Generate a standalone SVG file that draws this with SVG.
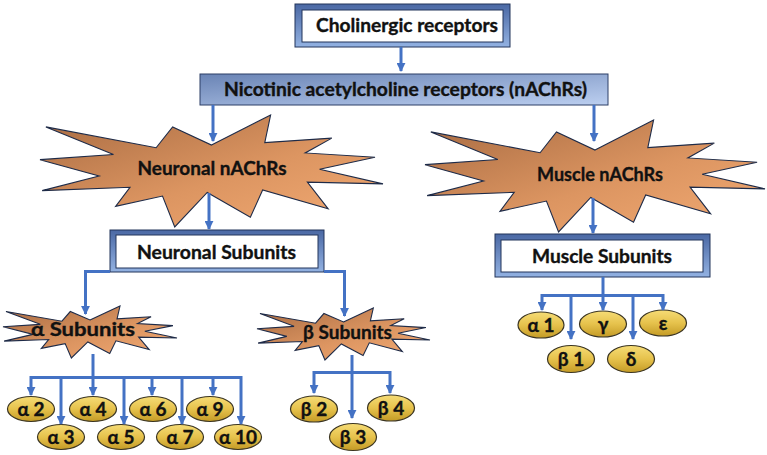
<svg xmlns="http://www.w3.org/2000/svg" xmlns:xlink="http://www.w3.org/1999/xlink" width="767" height="455" viewBox="0 0 767 455">
<defs>
<linearGradient id="starGrad" x1="0" y1="0" x2="1" y2="1">
<stop offset="0" stop-color="#a86b42"/>
<stop offset="0.55" stop-color="#dc9561"/>
<stop offset="1" stop-color="#f3ab74"/>
</linearGradient>
<linearGradient id="ellGrad" x1="0" y1="0" x2="0" y2="1">
<stop offset="0" stop-color="#f6dc76"/>
<stop offset="0.5" stop-color="#e6c24c"/>
<stop offset="1" stop-color="#c49b26"/>
</linearGradient>
<linearGradient id="frameGrad" x1="0" y1="0" x2="0" y2="1">
<stop offset="0" stop-color="#4a68a4"/>
<stop offset="1" stop-color="#93b2e2"/>
</linearGradient>
<linearGradient id="nicGrad" x1="0" y1="0" x2="1" y2="1">
<stop offset="0" stop-color="#6a84b5"/>
<stop offset="1" stop-color="#bccff0"/>
</linearGradient>
<marker id="arr" viewBox="0 0 10 10" refX="9" refY="5" markerWidth="9" markerHeight="9" markerUnits="userSpaceOnUse" orient="auto-start-reverse">
<path d="M0,0 L10,5 L0,10 Z" fill="#4472c4"/>
</marker>
<path id="seal" vector-effect="non-scaling-stroke" d="M10800,5800 L14522,0 L14155,5325 L18380,4457 L16702,7315 L21097,8137 L17607,10475 L21600,13290 L16837,12942 L18145,18095 L14020,14457 L13247,19737 L10532,14935 L8485,21600 L7715,15627 L4762,17617 L5667,13937 L135,14587 L3722,11775 L0,8615 L4627,7617 L370,2295 L7312,6320 L8352,2295 Z"/>
</defs>
<style>
.star{fill:url(#starGrad);stroke:#1e2b48;stroke-width:1.1}
.frame{fill:url(#frameGrad);stroke:#23345a;stroke-width:1}
.inner{fill:#ffffff;stroke:#23345a;stroke-width:1}
.nic{fill:url(#nicGrad);stroke:#2c3e66;stroke-width:1}
.ell{fill:url(#ellGrad);stroke:#3b3522;stroke-width:1.2}
.lbl{font-family:Lato,"Liberation Sans",sans-serif;font-weight:700;font-size:18px;fill:#111111;stroke:#111111;stroke-width:0.35;text-anchor:middle}
.sm{font-family:Lato,"Liberation Sans",sans-serif;font-weight:700;font-size:19px;fill:#111111;stroke:#111111;stroke-width:0.35;text-anchor:middle}
.con{fill:none;stroke:#4472c4;stroke-width:3}
.arr{marker-end:url(#arr)}
.arr2{marker-start:url(#arr);marker-end:url(#arr)}
</style>

<g id="cholinergic">
<rect class="frame" x="295" y="4" width="215" height="43"/>
<rect class="inner" x="302" y="10" width="201" height="32"/>
<text class="lbl" x="407" y="32" textLength="182" lengthAdjust="spacingAndGlyphs">Cholinergic receptors</text>
</g>

<g id="nachrs">
<rect class="nic" x="200" y="74" width="408" height="31"/>
<text class="lbl" x="405.5" y="96" textLength="363" lengthAdjust="spacingAndGlyphs">Nicotinic acetylcholine receptors (nAChRs)</text>
</g>

<g id="neuronal-nachrs">
<use xlink:href="#seal" class="star" transform="translate(40,115) scale(0.015880,0.005185)"/>
<text class="lbl" x="212" y="175" textLength="149" lengthAdjust="spacingAndGlyphs">Neuronal nAChRs</text>
</g>

<g id="muscle-nachrs">
<use xlink:href="#seal" class="star" transform="translate(425,120) scale(0.015741,0.005185)"/>
<text class="lbl" x="600" y="181" textLength="126" lengthAdjust="spacingAndGlyphs">Muscle nAChRs</text>
</g>

<g id="neuronal-subunits">
<rect class="frame" x="110" y="230" width="214" height="42"/>
<rect class="inner" x="116" y="235" width="202" height="33"/>
<text class="lbl" x="216.5" y="259" textLength="159" lengthAdjust="spacingAndGlyphs">Neuronal Subunits</text>
</g>

<g id="muscle-subunits">
<rect class="frame" x="495" y="234" width="215" height="43"/>
<rect class="inner" x="501" y="240" width="202" height="32"/>
<text class="lbl" x="602" y="263" textLength="140" lengthAdjust="spacingAndGlyphs">Muscle Subunits</text>
</g>

<g id="alpha-subunits">
<use xlink:href="#seal" class="star" transform="translate(3,306) scale(0.008056,0.002407)"/>
<text class="lbl" x="83" y="336" textLength="104" lengthAdjust="spacingAndGlyphs">α Subunits</text>
</g>

<g id="beta-subunits">
<use xlink:href="#seal" class="star" transform="translate(257,308) scale(0.008009,0.002407)"/>
<text class="lbl" x="347.5" y="339" textLength="89" lengthAdjust="spacingAndGlyphs">β Subunits</text>
</g>

<g id="a2"><ellipse class="ell" cx="31" cy="409" rx="23.5" ry="12.5"/><text class="sm" x="31" y="416">α 2</text></g>
<g id="a3"><ellipse class="ell" cx="61" cy="437" rx="23.5" ry="12.5"/><text class="sm" x="61" y="444">α 3</text></g>
<g id="a4"><ellipse class="ell" cx="93" cy="409" rx="23.5" ry="12.5"/><text class="sm" x="93" y="416">α 4</text></g>
<g id="a5"><ellipse class="ell" cx="121" cy="437" rx="23.5" ry="12.5"/><text class="sm" x="121" y="444">α 5</text></g>
<g id="a6"><ellipse class="ell" cx="153" cy="409" rx="23.5" ry="12.5"/><text class="sm" x="153" y="416">α 6</text></g>
<g id="a7"><ellipse class="ell" cx="180" cy="437" rx="23.5" ry="12.5"/><text class="sm" x="180" y="444">α 7</text></g>
<g id="a9"><ellipse class="ell" cx="210" cy="409" rx="23.5" ry="12.5"/><text class="sm" x="210" y="416">α 9</text></g>
<g id="a10"><ellipse class="ell" cx="238" cy="437" rx="23.5" ry="12.5"/><text class="sm" x="238" y="444">α 10</text></g>

<g id="b2"><ellipse class="ell" cx="314" cy="409" rx="23.5" ry="13"/><text class="sm" x="314" y="416">β 2</text></g>
<g id="b3"><ellipse class="ell" cx="353" cy="437" rx="23.5" ry="13.5"/><text class="sm" x="353" y="444">β 3</text></g>
<g id="b4"><ellipse class="ell" cx="391" cy="408" rx="23.5" ry="13"/><text class="sm" x="391" y="415">β 4</text></g>

<g id="m-a1"><ellipse class="ell" cx="541" cy="325" rx="23" ry="13"/><text class="sm" x="541" y="332">α 1</text></g>
<g id="m-g"><ellipse class="ell" cx="603" cy="324" rx="23.5" ry="13"/><text class="sm" x="603" y="331">γ</text></g>
<g id="m-e"><ellipse class="ell" cx="663" cy="323" rx="23.5" ry="13"/><text class="sm" x="663" y="330">ε</text></g>
<g id="m-b1"><ellipse class="ell" cx="571" cy="359" rx="23.5" ry="13.5"/><text class="sm" x="571" y="366">β 1</text></g>
<g id="m-d"><ellipse class="ell" cx="631" cy="359" rx="23.5" ry="13.5"/><text class="sm" x="631" y="366">δ</text></g>

<g id="connectors">
<path class="con arr" d="M401,47 V71"/>
<path class="con arr" d="M213,105 V141"/>
<path class="con arr" d="M594,105 V141"/>
<path class="con arr" d="M209,193 V229"/>
<path class="con arr" d="M593,198 V233"/>
<path class="con arr" d="M110,271.5 H85.5 V314"/>
<path class="con arr" d="M324,271.5 H344.5 V316"/>
<path class="con arr2" d="M31,395 V377.5 H241 V424"/>
<path class="con arr" d="M93,354 V395"/>
<path class="con arr" d="M61,377.5 V424"/>
<path class="con arr" d="M124,377.5 V424"/>
<path class="con arr" d="M152,377.5 V395"/>
<path class="con arr" d="M182,377.5 V424"/>
<path class="con arr" d="M213,377.5 V395"/>
<path class="con arr2" d="M314,393 V372.5 H390 V393"/>
<path class="con arr" d="M352,355 V418"/>
<path class="con arr2" d="M542,310 V295.5 H663 V310"/>
<path class="con arr" d="M603,277 V310"/>
<path class="con arr" d="M571,295.5 V339"/>
<path class="con arr" d="M633,295.5 V339"/>
</g>
</svg>
